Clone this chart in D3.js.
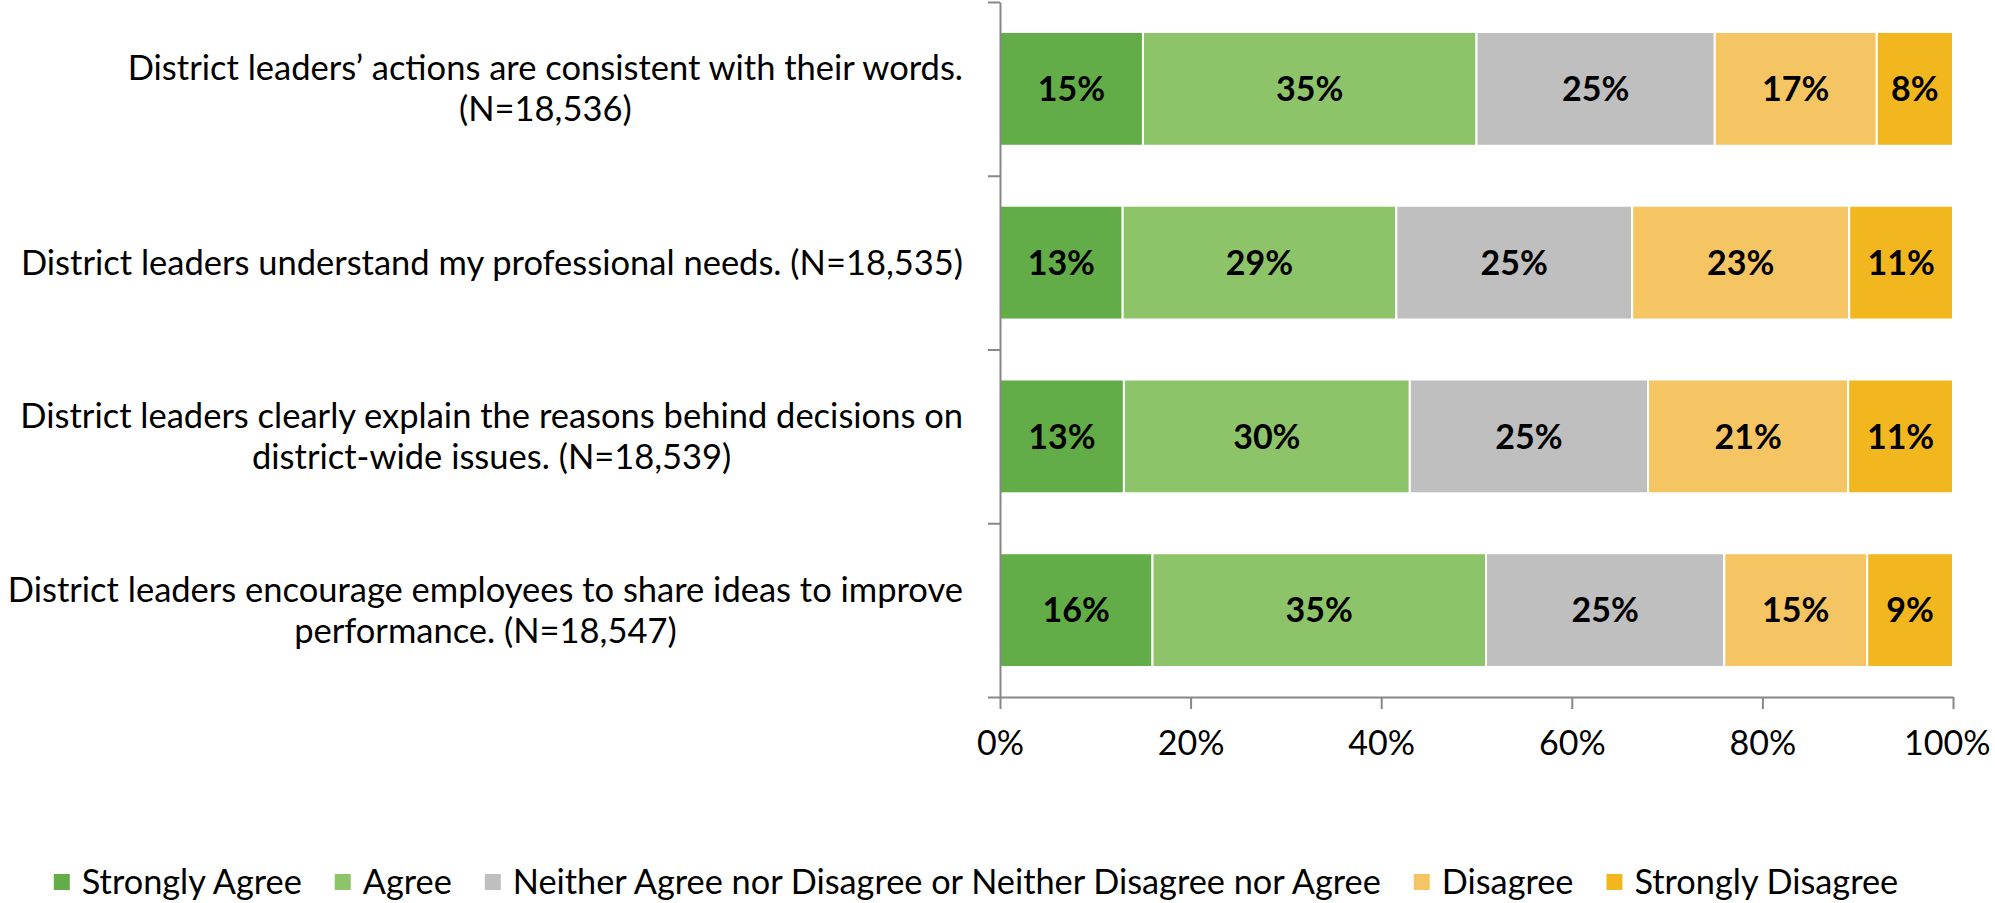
<!DOCTYPE html>
<html>
<head>
<meta charset="utf-8">
<script src="https://cdn.jsdelivr.net/npm/d3@7"></script>
<style>
  body { margin: 0; background: #fff; }
  svg text { font-family: Lato, "Open Sans", sans-serif; fill: #000; }
</style>
</head>
<body>
<svg id="chart" width="1995" height="903"></svg>
<script>
// Survey statements, one array of wrapped lines each
const questions = [
  ["District leaders\u2019 actions are consistent with their words.", "(N=18,536)"],
  ["District leaders understand my professional needs. (N=18,535)"],
  ["District leaders clearly explain the reasons behind decisions on", "district-wide issues. (N=18,539)"],
  ["District leaders encourage employees to share ideas to improve", "performance. (N=18,547)"]
];
const seriesNames = [
  "Strongly Agree",
  "Agree",
  "Neither Agree nor Disagree or Neither Disagree nor Agree",
  "Disagree",
  "Strongly Disagree"
];
// Percentages per statement
const strongAgree    = [15, 13, 13, 16];
const agree          = [35, 29, 30, 35];
const neutral        = [25, 25, 25, 25];
const disagree       = [17, 23, 21, 15];
const strongDisagree = [8, 11, 11, 9];
const tickValues = [0, 0.2, 0.4, 0.6, 0.8, 1.0];
const colors = ["#62AD47", "#8DC46A", "#BFBFBF", "#F6C563", "#F2B71F"];

const seriesValues = [strongAgree, agree, neutral, disagree, strongDisagree];
const rows = questions.map((q, i) => {
  const r = { id: i };
  seriesNames.forEach((s, j) => r[s] = seriesValues[j][i]);
  return r;
});

const svg = d3.select("#chart");
const FONT = 34;

const x = d3.scaleLinear().domain([0, 1]).range([1000, 1953]);
const y = d3.scaleBand().domain(rows.map(r => r.id)).range([2, 697])
  .paddingInner(0.345).paddingOuter(0.1725);
const bounds = d3.scaleLinear().domain([0, questions.length]).range([2, 697]);
const color = d3.scaleOrdinal().domain(seriesNames).range(colors);

// 100% stacked layout
const stacked = d3.stack().keys(seriesNames).offset(d3.stackOffsetExpand)(rows);

const layers = svg.append("g").selectAll("g")
  .data(stacked).join("g")
  .attr("fill", d => color(d.key));

layers.selectAll("rect")
  .data(d => d.map(p => ({ key: d.key, p })))
  .join("rect")
  .attr("x", d => x(d.p[0]))
  .attr("width", d => x(d.p[1]) - x(d.p[0]))
  .attr("y", d => y(d.p.data.id))
  .attr("height", y.bandwidth())
  .attr("stroke", "#fff")
  .attr("stroke-width", 2);

layers.selectAll("text")
  .data(d => d.map(p => ({ key: d.key, p })))
  .join("text")
  .attr("x", d => (x(d.p[0]) + x(d.p[1])) / 2)
  .attr("y", d => y(d.p.data.id) + y.bandwidth() / 2)
  .attr("dy", "0.36em")
  .attr("text-anchor", "middle")
  .attr("font-weight", "bold")
  .attr("font-size", FONT)
  .text(d => d.p.data[d.key] + "%");

// Horizontal value axis
const xAxis = svg.append("g")
  .attr("transform", "translate(0,697)")
  .call(d3.axisBottom(x).tickValues(tickValues).tickFormat(d3.format(".0%"))
    .tickSize(12).tickSizeOuter(0).tickPadding(22));
xAxis.select(".domain").attr("stroke", "#878787").attr("stroke-width", 2);
xAxis.selectAll(".tick line").attr("stroke", "#878787").attr("stroke-width", 2);
xAxis.selectAll("text").attr("font-size", FONT).attr("font-family", null);
// keep the last tick label inside the canvas
xAxis.selectAll(".tick text").each(function () {
  const b = this.getBBox();
  const tx = x(d3.select(this.parentNode).datum());
  const over = tx + b.x + b.width - 1990;
  if (over > 0) d3.select(this).attr("x", -over);
});

// Vertical category axis with ticks between categories
const yAxis = svg.append("g")
  .attr("transform", "translate(1000,0)")
  .call(d3.axisLeft(bounds).ticks(questions.length).tickFormat("").tickSize(12).tickSizeOuter(0));
yAxis.select(".domain").attr("stroke", "#878787").attr("stroke-width", 2);
yAxis.selectAll(".tick line").attr("stroke", "#878787").attr("stroke-width", 2);

// Category labels: lines centred within a right-aligned block
const labelRight = 963;
const lineH = 41;
const labels = svg.append("g").attr("font-size", FONT + 0.5);
questions.forEach((lines, i) => {
  const g = labels.append("g");
  const texts = lines.map(l => g.append("text").text(l));
  const maxW = d3.max(texts, t => t.node().getComputedTextLength());
  const cx = labelRight - maxW / 2;
  const cy = y(i) + y.bandwidth() / 2;
  texts.forEach((t, k) => {
    t.attr("x", cx)
      .attr("y", cy + (k - (lines.length - 1) / 2) * lineH)
      .attr("dy", "0.35em")
      .attr("text-anchor", "middle");
  });
});

// Legend
const legend = svg.append("g").attr("font-size", FONT + 0.3);
const items = legend.selectAll("g").data(seriesNames).join("g");
items.append("rect").attr("width", 16).attr("height", 16).attr("y", -8)
  .attr("fill", d => color(d));
items.append("text").attr("x", 28).attr("dy", "0.35em").text(d => d);
let cursor = 0;
items.each(function () {
  const w = 28 + this.querySelector("text").getComputedTextLength();
  d3.select(this).attr("transform", `translate(${cursor},0)`);
  cursor += w + 33;
});
const total = cursor - 33;
legend.attr("transform", `translate(${976 - total / 2},882)`);
</script>
</body>
</html>
